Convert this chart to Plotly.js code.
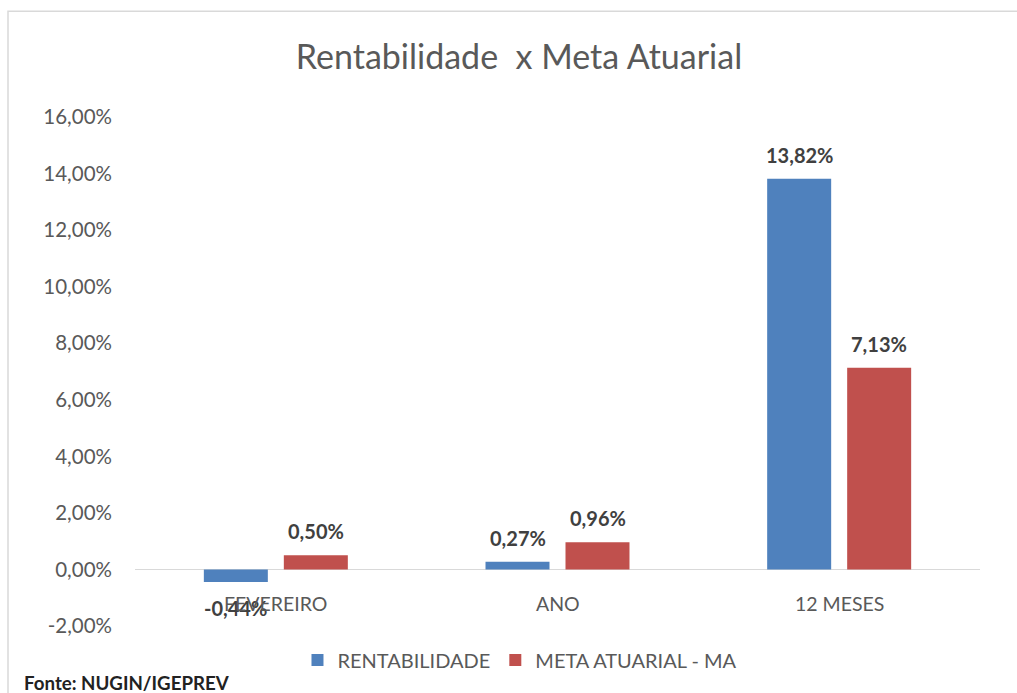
<!DOCTYPE html>
<html>
<head>
<meta charset="utf-8">
<script src="https://cdn.plot.ly/plotly-3.0.1.min.js"></script>
<style>html,body{margin:0;padding:0;background:#fff;}#chart{width:1017px;height:693px;}</style>
</head>
<body>
<div id="chart"></div>
<script>
const categories = ["FEVEREIRO", "ANO", "12 MESES"];
const rentabilidade = [-0.44, 0.27, 13.82];
const metaAtuarial = [0.50, 0.96, 7.13];
const seriesNames = ["RENTABILIDADE", "META ATUARIAL - MA"];
const tickValues = [-2, 0, 2, 4, 6, 8, 10, 12, 14, 16];
const sourceText = "Fonte: NUGIN/IGEPREV";

const FONT = "Lato, 'Open Sans', sans-serif";
const GRAY = "#595959";
const BARGAP = 0.432;
const half = (1 - BARGAP) / 4;

function fmt(v) { return v.toFixed(2).replace(".", ",") + "%"; }

const traces = [
  { type: "bar", name: seriesNames[0], x: categories, y: rentabilidade,
    marker: { color: "#4f81bd" }, hoverinfo: "none" },
  { type: "bar", name: seriesNames[1], x: categories, y: metaAtuarial,
    marker: { color: "#c0504d" }, hoverinfo: "none" }
];

const annotations = [];
[rentabilidade, metaAtuarial].forEach((arr, s) => {
  arr.forEach((v, i) => {
    annotations.push({
      xref: "x", yref: "y", x: i + (s === 0 ? -half : half), y: v,
      text: "<b>" + fmt(v) + "</b>", showarrow: false,
      xanchor: "center", yanchor: "middle", yshift: v < 0 ? -26 : 24,
      font: { family: FONT, size: 20, color: "#404040" }
    });
  });
});
categories.forEach((c, i) => {
  annotations.push({
    xref: "x", yref: "y", x: i, y: 0, text: c, showarrow: false,
    xanchor: "center", yanchor: "middle", yshift: -34,
    font: { family: FONT, size: 19.5, color: GRAY }
  });
});
annotations.push({
  xref: "paper", yref: "paper", x: (22 - 135) / 845, y: -0.112, xanchor: "left", yanchor: "middle",
  showarrow: false,
  text: "<b>" + sourceText + "</b>",
  font: { family: FONT, size: 18.7, color: "#222222" }
});

const layout = {
  width: 1017, height: 693,
  margin: { l: 135, r: 37, t: 117, b: 67, pad: 0 },
  paper_bgcolor: "#ffffff", plot_bgcolor: "#ffffff",
  separators: ",.",
  barmode: "group", bargap: BARGAP, bargroupgap: 0.2,
  title: {
    text: "Rentabilidade  x Meta Atuarial",
    font: { family: FONT, size: 34, color: GRAY },
    x: (519 - 135) / 845, xanchor: "center", xref: "paper", y: 0.918, yref: "container", yanchor: "middle"
  },
  xaxis: { type: "category", showticklabels: false, showgrid: false, showline: false, zeroline: false, ticks: "", fixedrange: true },
  yaxis: {
    range: [-2, 16], tickmode: "array", tickvals: tickValues, ticktext: tickValues.map(fmt),
    showgrid: false, zeroline: true, zerolinecolor: "#d9d9d9", zerolinewidth: 1,
    showline: false, ticks: "", ticklabelstandoff: 22,
    tickfont: { family: FONT, size: 20.5, color: GRAY }, fixedrange: true
  },
  showlegend: true,
  legend: {
    orientation: "h", x: 0.4556, xanchor: "center", xref: "paper",
    y: -0.067, yanchor: "middle", yref: "paper",
    font: { family: FONT, size: 20, color: GRAY }, itemclick: false
  },
  annotations: annotations,
  shapes: [{
    type: "rect", xref: "paper", yref: "paper",
    x0: -0.1503, x1: 1.06, y0: -0.16, y1: 1.208,
    line: { color: "#d9d9d9", width: 1.5 }, fillcolor: "rgba(0,0,0,0)", layer: "below"
  }]
};

Plotly.newPlot("chart", traces, layout, { displayModeBar: false, staticPlot: true });
</script>
</body>
</html>
